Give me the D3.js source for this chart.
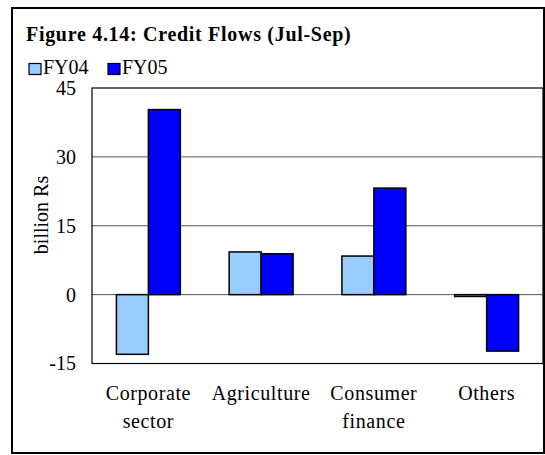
<!DOCTYPE html>
<html>
<head>
<meta charset="utf-8">
<script src="https://cdn.jsdelivr.net/npm/d3@7"></script>
<style>
  html, body { margin: 0; padding: 0; background: #fff; }
  svg { display: block; }
  text { font-family: "Liberation Serif", "Times New Roman", serif; fill: #000; }
</style>
</head>
<body>
<svg id="chart" width="545" height="455"></svg>
<script>
// Credit flows by sector, billion Rs
const categories = [["Corporate", "sector"], ["Agriculture"], ["Consumer", "finance"], ["Others"]];
const seriesNames = ["FY04", "FY05"];
const fy04 = [-13.0, 9.3, 8.4, -0.4];
const fy05 = [40.3, 8.9, 23.2, -12.3];
const yTicks = [-15, 0, 15, 30, 45];
const colors = ["#99CCFF", "#0000FF"];

const svg = d3.select("#chart");
const plot = { left: 92, right: 543, top: 88, bottom: 363.5 };

// outer frame
svg.append("rect")
  .attr("x", 12).attr("y", 8).attr("width", 532).attr("height", 445)
  .attr("fill", "#fff").attr("stroke", "#000").attr("stroke-width", 2);

// title
svg.append("text")
  .attr("x", 26).attr("y", 41)
  .attr("font-size", 20).attr("font-weight", "bold")
  .attr("letter-spacing", 0.7)
  .text("Figure 4.14: Credit Flows (Jul-Sep)");

// legend
const legendX = [29, 108];
seriesNames.forEach((name, i) => {
  svg.append("rect")
    .attr("x", legendX[i]).attr("y", 63.5).attr("width", 12).attr("height", 11)
    .attr("fill", colors[i]).attr("stroke", "#000").attr("stroke-width", 1.2);
  svg.append("text")
    .attr("x", legendX[i] + 14).attr("y", 74)
    .attr("font-size", 20)
    .text(name);
});

const x = d3.scaleBand()
  .domain(d3.range(categories.length))
  .range([plot.left, plot.right])
  .paddingInner(0.433).paddingOuter(0.2165);
const xs = d3.scaleBand().domain(seriesNames).range([0, x.bandwidth()]);
const y = d3.scaleLinear().domain([-15, 45]).range([plot.bottom, plot.top]);

// gridlines
svg.append("g").selectAll("line")
  .data(yTicks.filter(t => t > -15 && t < 45))
  .join("line")
  .attr("x1", plot.left).attr("x2", plot.right)
  .attr("y1", d => y(d)).attr("y2", d => y(d))
  .attr("stroke", "#555").attr("stroke-width", 1);

// plot border
svg.append("rect")
  .attr("x", plot.left).attr("y", plot.top)
  .attr("width", plot.right - plot.left).attr("height", plot.bottom - plot.top)
  .attr("fill", "none").attr("stroke", "#000").attr("stroke-width", 1.2);

// bars
const rows = [];
categories.forEach((c, i) => {
  rows.push({ i, s: "FY04", v: fy04[i], c: colors[0] });
  rows.push({ i, s: "FY05", v: fy05[i], c: colors[1] });
});
svg.append("g").selectAll("rect")
  .data(rows)
  .join("rect")
  .attr("x", d => x(d.i) + xs(d.s))
  .attr("width", xs.bandwidth())
  .attr("y", d => y(Math.max(0, d.v)))
  .attr("height", d => Math.abs(y(d.v) - y(0)))
  .attr("fill", d => d.c)
  .attr("stroke", "#000").attr("stroke-width", 1.5);

// y axis tick labels
const yAxis = d3.axisLeft(y).tickValues(yTicks).tickSize(0).tickPadding(16)
  .tickFormat(d => String(d));
const gy = svg.append("g").attr("transform", `translate(${plot.left},0)`).call(yAxis);
gy.select(".domain").remove();
gy.selectAll("text")
  .attr("font-size", 20)
  .attr("font-family", "Liberation Serif, Times New Roman, serif")
  .attr("fill", "#000");

// y axis title
svg.append("text")
  .attr("transform", "translate(48,215) rotate(-90)")
  .attr("text-anchor", "middle")
  .attr("font-size", 20)
  .text("billion Rs");

// category labels
const gx = svg.append("g");
categories.forEach((lines, i) => {
  const t = gx.append("text")
    .attr("text-anchor", "middle")
    .attr("font-size", 20)
    .attr("letter-spacing", 0.6);
  lines.forEach((ln, k) => {
    t.append("tspan")
      .attr("x", x(i) + x.bandwidth() / 2)
      .attr("y", 400 + k * 28)
      .text(ln);
  });
});
</script>
</body>
</html>
